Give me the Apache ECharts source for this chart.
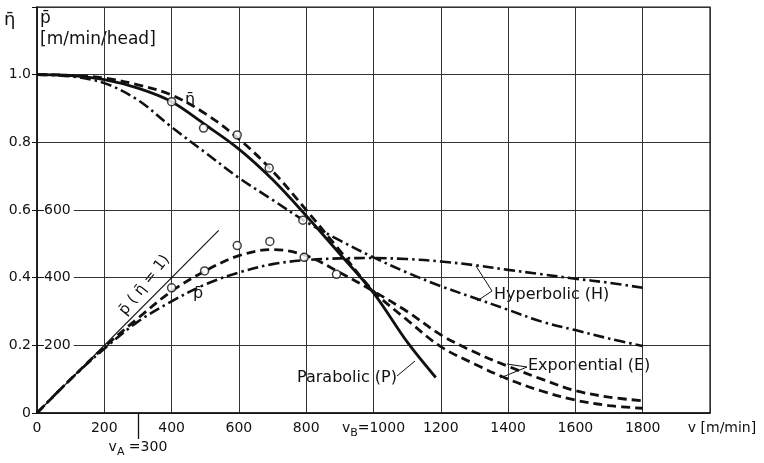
<!DOCTYPE html>
<html><head><meta charset="utf-8">
<script src="https://cdn.jsdelivr.net/npm/echarts@6/dist/echarts.min.js"></script>
<style>html,body{margin:0;padding:0;background:#fff}#c{width:764px;height:463px}</style>
</head><body><div id="c"></div>
<script>
// ---- data ----
const xTickValues = [0,200,400,600,800,1000,1200,1400,1600,1800];
const yLeftLabels = [0,0.2,0.4,0.6,0.8,1.0];
const pScaleLabels = [200,400,600];
const vGrid = [0,100,200,300,400,500,600,700,800,900,1000,1100,1200,1300,1400,1500,1600,1700,1800];
const etaE = [1.0,0.998,0.99,0.97,0.94,0.885,0.81,0.715,0.60,0.48,0.36,0.275,0.196,0.145,0.10,0.065,0.038,0.022,0.014];
const etaH = [1.0,0.995,0.975,0.925,0.845,0.77,0.695,0.63,0.565,0.51,0.46,0.415,0.375,0.34,0.305,0.27,0.245,0.22,0.198];
const pE   = [0,0.10,0.195,0.28,0.36,0.42,0.465,0.483,0.465,0.415,0.36,0.30,0.231,0.18,0.138,0.10,0.066,0.047,0.036];
const pH   = [0,0.10,0.19,0.27,0.33,0.38,0.415,0.44,0.452,0.457,0.458,0.455,0.448,0.437,0.423,0.41,0.397,0.385,0.37];
const vP   = [0,100,200,300,400,500,600,700,800,900,1000,1100,1185];
const etaP = [1.0,0.997,0.985,0.96,0.92,0.852,0.78,0.69,0.583,0.47,0.355,0.21,0.105];
const vIdeal = [0,540];
const pIdeal = [0,0.54];
const vEtaMeas = [400,495,595,690,790];
const etaMeas  = [0.92,0.842,0.822,0.724,0.57];
const vPMeas = [400,498,595,692,794,890];
const pMeas  = [0.37,0.42,0.495,0.507,0.46,0.41];
const vA = 300, vB = 1000;

const pairs = (xs, ys) => xs.map((x,i)=>[x,ys[i]]);
const FONT = 'DejaVu Sans';
const INK = '#111';
const dashed = [9,5];
const dashDot = [11,4,2.5,4];

const chart = echarts.init(document.getElementById('c'), null, {renderer:'canvas'});
const line = (data, type, width) => ({
  type:'line', data, smooth:0.35, symbol:'none', silent:true,
  lineStyle:{color:INK, width:width||2.6, type:type||'solid'}, z:3
});
const circles = (data) => ({
  type:'scatter', data, symbol:'circle', symbolSize:8, silent:true,
  itemStyle:{color:'#fff', borderColor:INK, borderWidth:1.5}, z:5
});

chart.setOption({
  animation:false,
  backgroundColor:'#fff',
  textStyle:{fontFamily:FONT},
  grid:{left:37, right:54, top:7, bottom:50, show:true, borderColor:INK, borderWidth:1.2},
  xAxis:[{
    type:'value', min:0, max:2000, interval:200,
    axisLine:{show:true, lineStyle:{color:INK, width:1.5}},
    axisTick:{show:false},
    splitLine:{show:true, lineStyle:{color:'#333', width:1}},
    axisLabel:{
      color:INK, fontSize:14, fontFamily:FONT, margin:8,
      formatter:(v)=>{
        if (v===vB) return '{t|v}{s|B}{t|=1000}';
        if (v===2000) return '{u|v [m/min]}';
        return xTickValues.indexOf(v)>=0 ? String(v) : '';
      },
      rich:{
        t:{fontSize:14, fontFamily:FONT, color:INK, lineHeight:18, verticalAlign:'top'},
        s:{fontSize:11, fontFamily:FONT, color:INK, lineHeight:18, padding:[7,0,0,0], verticalAlign:'top'},
        u:{fontSize:14, fontFamily:FONT, color:INK, padding:[0,0,0,24]}
      }
    }
  },{
    type:'value', min:0, max:2000, position:'bottom',
    axisLine:{show:false}, splitLine:{show:false},
    axisTick:{show:true, customValues:[vA], length:26, lineStyle:{color:INK, width:1.3}},
    axisLabel:{
      customValues:[vA], margin:27, color:INK,
      formatter:()=> '{t|v}{s|A}{t| =300}',
      rich:{
        t:{fontSize:14, fontFamily:FONT, color:INK, lineHeight:18, verticalAlign:'top'},
        s:{fontSize:11, fontFamily:FONT, color:INK, lineHeight:18, padding:[7,0,0,0], verticalAlign:'top'}
      }
    }
  }],
  yAxis:[{
    type:'value', min:0, max:1.2, interval:0.2,
    axisLine:{show:true, lineStyle:{color:INK, width:1.5}},
    axisTick:{show:true, length:5, lineStyle:{color:INK}},
    splitLine:{show:true, lineStyle:{color:'#333', width:1}},
    axisLabel:{
      color:INK, fontSize:14, fontFamily:FONT, margin:6,
      formatter:(v)=>{
        const r = Math.round(v*10)/10;
        if (yLeftLabels.indexOf(r)<0) return '';
        return r===0 ? '0' : r.toFixed(1);
      }
    }
  },{
    type:'value', min:0, max:1.2, position:'left',
    axisLine:{show:false}, splitLine:{show:false},
    axisTick:{show:true, inside:true, length:6, customValues:pScaleLabels.map(p=>p/1000), lineStyle:{color:INK}},
    axisLabel:{
      inside:true, customValues:pScaleLabels.map(p=>p/1000), margin:7,
      color:INK, fontSize:14, fontFamily:FONT,
      backgroundColor:'#fff', padding:[1,3,1,0],
      formatter:(v)=> String(Math.round(v*1000))
    }
  }],
  series:[
    line(pairs(vP, etaP), 'solid', 2.8),
    line(pairs(vGrid, etaE), dashed, 2.8),
    line(pairs(vGrid, etaH), dashDot, 2.6),
    line(pairs(vGrid, pE), dashed, 2.8),
    line(pairs(vGrid, pH), dashDot, 2.6),
    line(pairs(vIdeal, pIdeal), 'solid', 1.1),
    circles(pairs(vEtaMeas, etaMeas)),
    circles(pairs(vPMeas, pMeas))
  ],
  graphic:[
    {type:'text', left:4, top:11, style:{text:'η\u0304', font:'18px '+FONT, fill:INK}},
    {type:'text', left:40, top:10, style:{text:'p\u0304', font:'17px '+FONT, fill:INK, backgroundColor:'#fff'}},
    {type:'text', left:40, top:31, style:{text:'[m/min/head]', font:'17px '+FONT, fill:INK}},
    {type:'text', x:185, y:92, style:{text:'η\u0304', font:'16px '+FONT, fill:INK}},
    {type:'text', x:193, y:286, style:{text:'p\u0304', font:'16px '+FONT, fill:INK}},
    {type:'text', x:128, y:318, rotation:0.9, style:{text:'p\u0304 ( η\u0304 = 1)', font:'15px '+FONT, fill:INK, verticalAlign:'bottom'}},
    {type:'text', x:397, y:378, style:{text:'Parabolic (P)', font:'16px '+FONT, fill:INK, align:'right', verticalAlign:'middle', backgroundColor:'#fff'}},
    {type:'text', x:494, y:295, style:{text:'Hyperbolic (H)', font:'16px '+FONT, fill:INK, verticalAlign:'middle', backgroundColor:'#fff'}},
    {type:'text', x:528, y:366, style:{text:'Exponential (E)', font:'16px '+FONT, fill:INK, verticalAlign:'middle', backgroundColor:'#fff'}},
    {type:'polyline', shape:{points:[[476,266],[492,291],[477,301]]}, style:{stroke:INK, lineWidth:1, fill:null}},
    {type:'polyline', shape:{points:[[507,364],[527,367],[500,378]]}, style:{stroke:INK, lineWidth:1, fill:null}},
    {type:'line', shape:{x1:397, y1:376, x2:415, y2:361}, style:{stroke:INK, lineWidth:1}}
  ]
});
</script></body></html>
